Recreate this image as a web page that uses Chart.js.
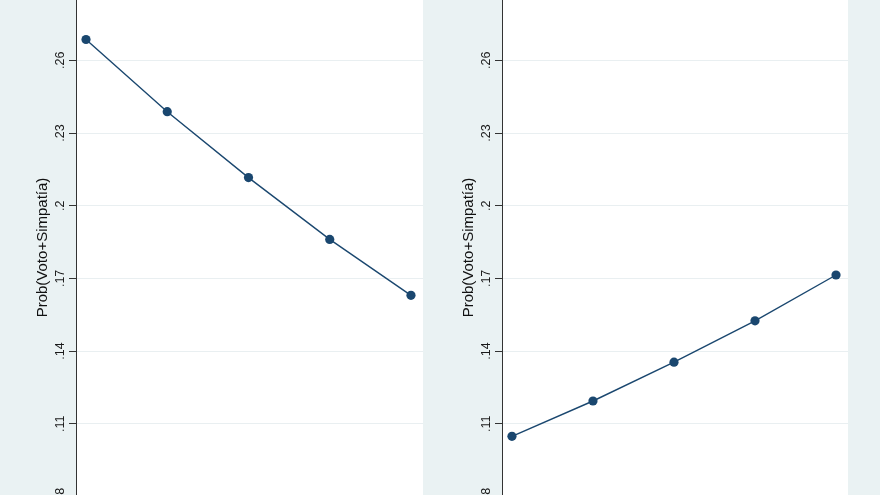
<!DOCTYPE html>
<html>
<head>
<meta charset="utf-8">
<script src="https://cdn.jsdelivr.net/npm/chart.js@4.4.1/dist/chart.umd.min.js"></script>
<style>
    html, body { margin: 0; padding: 0; background: #eaf2f3; }
    body { width: 880px; height: 495px; position: relative; overflow: hidden; }
    .panel { position: absolute; top: 0; height: 495px; }
    #leftPanel { left: 0; width: 423px; }
    #rightPanel { left: 423px; width: 425px; }
</style>
</head>
<body>
<div class="panel" id="leftPanel"><canvas id="leftChart"></canvas></div>
<div class="panel" id="rightPanel"><canvas id="rightChart"></canvas></div>
<script>
// x positions of the five groups
const categories = [1, 2, 3, 4, 5];

// Prob(Voto+Simpatía) per panel
const leftValues = [0.2686, 0.2388, 0.2116, 0.1861, 0.1630];
const rightValues = [0.1048, 0.1194, 0.1354, 0.1525, 0.1714];

// y ticks and their labels
const tickValues = [0.08, 0.11, 0.14, 0.17, 0.20, 0.23, 0.26];
const tickLabels = ['.08', '.11', '.14', '.17', '.2', '.23', '.26'];

const yTitle = 'Prob(Voto+Simpatía)';
const lineColor = '#1a476f';

// white plot region
const plotBackground = {
    id: 'plotBackground',
    beforeDraw(chart) {
        const { ctx, chartArea } = chart;
        ctx.save();
        ctx.fillStyle = '#ffffff';
        ctx.fillRect(chartArea.left, chartArea.top, chartArea.right - chartArea.left, chartArea.bottom - chartArea.top);
        ctx.restore();
    }
};

// vertical tick labels, Stata style
const verticalTicks = {
    id: 'verticalTicks',
    afterDraw(chart) {
        const { ctx } = chart;
        const yScale = chart.scales.y;
        const x = yScale.right - 15;
        ctx.save();
        ctx.fillStyle = '#1a1a1a';
        ctx.font = '12.5px "Liberation Sans", Arial, sans-serif';
        ctx.textAlign = 'center';
        ctx.textBaseline = 'middle';
        tickValues.forEach((v, i) => {
            const y = yScale.getPixelForValue(v);
            ctx.save();
            ctx.translate(x, y);
            ctx.rotate(-Math.PI / 2);
            ctx.fillText(tickLabels[i], 0, 0);
            ctx.restore();
        });
        ctx.restore();
    }
};

function makeChart(canvasId, values, axisWidth) {
    const ctx = document.getElementById(canvasId).getContext('2d');
    return new Chart(ctx, {
        type: 'line',
        data: {
            datasets: [{
                data: categories.map((c, i) => ({ x: c, y: values[i] })),
                borderColor: lineColor,
                borderWidth: 1.4,
                backgroundColor: lineColor,
                pointBackgroundColor: lineColor,
                pointBorderWidth: 0,
                pointRadius: 4.6,
                tension: 0,
                fill: false
            }]
        },
        options: {
            responsive: true,
            maintainAspectRatio: false,
            animation: false,
            layout: { padding: 0, autoPadding: false },
            plugins: {
                legend: { display: false },
                tooltip: { enabled: false }
            },
            scales: {
                x: {
                    type: 'linear',
                    display: false,
                    min: 0.877,
                    max: 5.148
                },
                y: {
                    type: 'linear',
                    min: 0.0806,
                    max: 0.2849,
                    afterBuildTicks: (scale) => {
                        scale.ticks = tickValues
                            .filter(v => v >= scale.min && v <= scale.max)
                            .map(v => ({ value: v }));
                    },
                    afterFit: (scale) => {
                        scale.width = axisWidth;
                    },
                    ticks: { display: false },
                    grid: {
                        color: '#e9eff1',
                        lineWidth: 1,
                        drawTicks: true,
                        tickLength: 7,
                        tickColor: '#333333',
                        tickWidth: 1
                    },
                    border: { display: true, color: '#333333', width: 1 },
                    title: {
                        display: true,
                        text: yTitle,
                        color: '#111111',
                        font: { family: '"Liberation Sans", Arial, sans-serif', size: 15 },
                        padding: { top: axisWidth - 42, bottom: 0 }
                    }
                }
            }
        },
        plugins: [plotBackground, verticalTicks]
    });
}

makeChart('leftChart', leftValues, 76);
makeChart('rightChart', rightValues, 79);
</script>
</body>
</html>
